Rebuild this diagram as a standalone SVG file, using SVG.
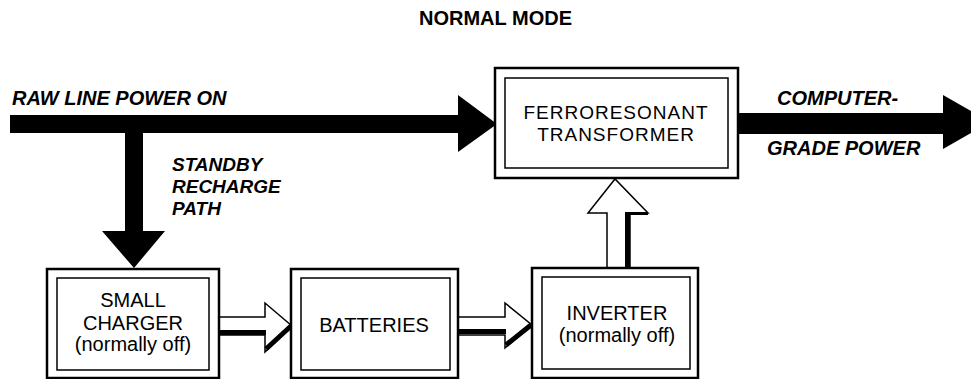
<svg xmlns="http://www.w3.org/2000/svg" width="971" height="379" viewBox="0 0 971 379">
<style>
text{font-family:"Liberation Sans",Arial,Helvetica,sans-serif;fill:#000}
.box{font-size:20px;text-anchor:middle}
.lbl{font-size:20px;font-weight:bold;font-style:italic}
.title{font-size:20px;font-weight:bold;text-anchor:middle}
.outer{fill:#fff;stroke:#000;stroke-width:2.5}
.inner{fill:none;stroke:#000;stroke-width:1.5}
.hollow{fill:#fff;stroke:#000;stroke-width:1.5;stroke-linejoin:miter}
.shadow{fill:none;stroke:#000;stroke-width:5}
.solid{fill:#000;stroke:none}
</style>
<rect width="971" height="379" fill="#fff"/>
<text class="title" x="495.5" y="25">NORMAL MODE</text>

<g id="connectors">
  <path class="solid" d="M10,115 H458 V95 L497,124 L458,152 V133 H143 V231 H165 L134,268 L102,231 H125 V133 H10 Z"/>
  <path class="solid" d="M738,113 H943 V95 L990,122 L943,149 V134 H738 Z"/>
  <g id="arrow-charger-batteries">
    <path class="hollow" d="M219,317 H265 V303 L292,326 L265,352 V335 H219"/>
    <path class="shadow" d="M219,332.5 H266 M266,349 L291,326"/>
  </g>
  <g id="arrow-batteries-inverter">
    <path class="hollow" d="M458,317 H505 V303 L532,325 L505,348 V335 H458"/>
    <path class="shadow" d="M458,331.5 H506 M506,345 L531,325"/>
  </g>
  <g id="arrow-inverter-transformer">
    <path class="hollow" d="M607,268 V213 H588 L615,179 L648,213 H630 V268"/>
    <path class="shadow" d="M627.5,268 V212" />
    <path fill="none" stroke="#000" stroke-width="3" d="M627,213.5 H648"/>
  </g>
  <text class="lbl" x="12" y="105">RAW LINE POWER ON</text>
  <text class="lbl" x="172" y="171" style="font-size:19px">STANDBY</text>
  <text class="lbl" x="172" y="193" style="font-size:19px">RECHARGE</text>
  <text class="lbl" x="172" y="215" style="font-size:19px">PATH</text>
  <text class="lbl" x="777" y="105">COMPUTER-</text>
  <text class="lbl" x="767" y="155">GRADE POWER</text>
</g>

<g id="transformer">
  <rect class="outer" x="495" y="68" width="243" height="110"/>
  <rect class="inner" x="505" y="78" width="223" height="90"/>
  <text class="box" x="616" y="119" style="font-size:19px;letter-spacing:1px">FERRORESONANT</text>
  <text class="box" x="616" y="141" style="font-size:19px;letter-spacing:1px">TRANSFORMER</text>
</g>

<g id="charger">
  <rect class="outer" x="47" y="269" width="172" height="109"/>
  <rect class="inner" x="57" y="278" width="152" height="92"/>
  <text class="box" x="133" y="307">SMALL</text>
  <text class="box" x="133" y="330">CHARGER</text>
  <text class="box" x="133" y="351">(normally off)</text>
</g>

<g id="batteries">
  <rect class="outer" x="291" y="269" width="167" height="109"/>
  <rect class="inner" x="301" y="278" width="149" height="92"/>
  <text class="box" x="374" y="332">BATTERIES</text>
</g>

<g id="inverter">
  <rect class="outer" x="532" y="268" width="166" height="110"/>
  <rect class="inner" x="542" y="277" width="148" height="92"/>
  <text class="box" x="617" y="320">INVERTER</text>
  <text class="box" x="617" y="342">(normally off)</text>
</g>
</svg>
